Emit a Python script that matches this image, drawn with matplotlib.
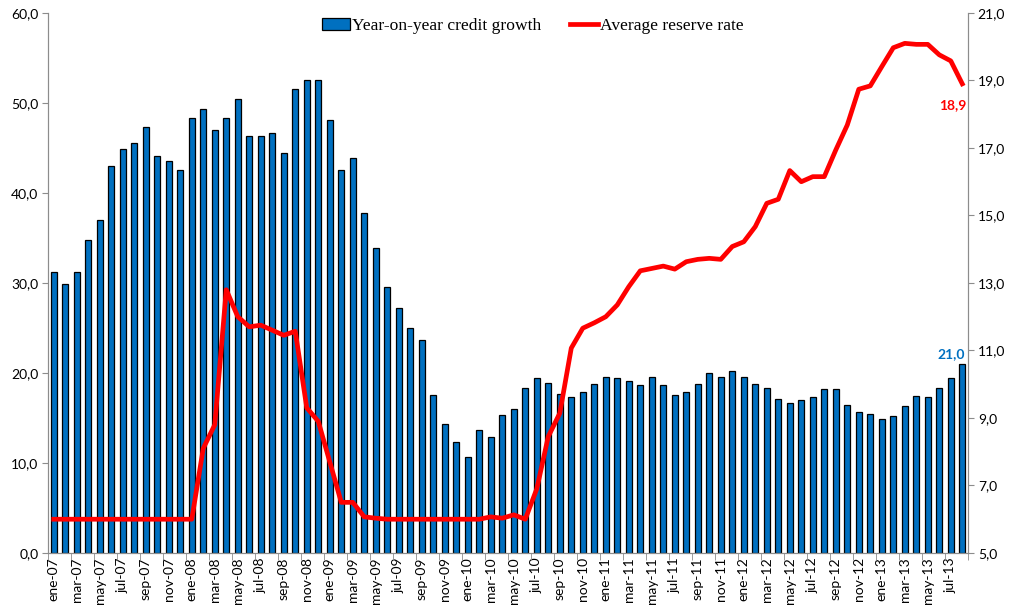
import matplotlib
matplotlib.use('Agg')
import matplotlib.pyplot as plt
import numpy as np
from matplotlib.ticker import FixedLocator, FuncFormatter

# monthly data, ene-07 .. ago-13
months = ['ene', 'feb', 'mar', 'abr', 'may', 'jun', 'jul', 'ago', 'sep', 'oct', 'nov', 'dic']
years = ['07', '08', '09', '10', '11', '12', '13']

credit_growth = [31.2, 29.9, 31.2, 34.8, 37.0, 43.0, 44.9, 45.5, 47.3, 44.1, 43.6, 42.5,
                 48.3, 49.3, 47.0, 48.3, 50.4, 46.3, 46.3, 46.7, 44.4, 51.5, 52.6, 52.6,
                 48.1, 42.5, 43.9, 37.8, 33.9, 29.6, 27.2, 25.0, 23.7, 17.5, 14.3, 12.3,
                 10.7, 13.7, 12.9, 15.3, 16.0, 18.3, 19.4, 18.9, 17.7, 17.3, 17.9, 18.8,
                 19.6, 19.4, 19.1, 18.7, 19.6, 18.7, 17.6, 17.9, 18.8, 20.0, 19.5, 20.2,
                 19.5, 18.8, 18.3, 17.1, 16.7, 17.0, 17.3, 18.2, 18.2, 16.4, 15.7, 15.4,
                 14.9, 15.2, 16.3, 17.4, 17.3, 18.3, 19.4, 21.0]

reserve_rate = [6.0, 6.0, 6.0, 6.0, 6.0, 6.0, 6.0, 6.0, 6.0, 6.0, 6.0, 6.0,
                6.0, 8.1, 8.8, 12.8, 12.0, 11.7, 11.75, 11.6, 11.45, 11.57, 9.3, 8.9,
                7.7, 6.5, 6.5, 6.07, 6.03, 6.0, 6.0, 6.0, 6.0, 6.0, 6.0, 6.0,
                6.0, 6.0, 6.07, 6.03, 6.13, 6.0, 6.9, 8.45, 9.14, 11.07, 11.66, 11.82,
                12.0, 12.35, 12.89, 13.36, 13.43, 13.5, 13.41, 13.63, 13.7, 13.73, 13.7, 14.08,
                14.22, 14.67, 15.36, 15.48, 16.33, 16.0, 16.15, 16.15, 16.94, 17.68, 18.74, 18.84,
                19.41, 19.97, 20.1, 20.07, 20.07, 19.76, 19.58, 18.9]

labels = [m + '-' + y for y in years for m in months][:len(credit_growth)]
x = np.arange(len(credit_growth))

sans = ['Lato', 'DejaVu Sans']
serif = ['Liberation Serif', 'DejaVu Serif']
blue = '#0070C0'
axis_grey = '#8c8c8c'

fig = plt.figure(figsize=(10.11, 6.09), dpi=100)
ax = fig.add_axes([0.0475, 0.092, 0.91, 0.8867])
ax2 = ax.twinx()

bars = ax.bar(x, credit_growth, width=0.5, color=blue, edgecolor='black', linewidth=0.9,
              label='Year-on-year credit growth', zorder=2)
line, = ax2.plot(x, reserve_rate, color='#ff0000', lw=3.4, solid_joinstyle='round',
                 label='Average reserve rate', zorder=3)

ax.set_xlim(-0.5, len(x) - 0.5)
ax.set_ylim(0, 60)
ax2.set_ylim(5, 21)

ax.set_yticks(np.arange(0, 61, 10))
ax2.set_yticks(np.arange(5, 22, 2))
comma = FuncFormatter(lambda v, p: ('%.1f' % v).replace('.', ','))
ax.yaxis.set_major_formatter(comma)
ax2.yaxis.set_major_formatter(comma)

# labels under every second month, tick marks between pairs
ax.set_xticks(x[::2])
ax.set_xticklabels(labels[::2], rotation=90, fontsize=10, family=sans)
ax.tick_params(axis='x', which='major', length=0, pad=3)
ax.xaxis.set_minor_locator(FixedLocator(np.arange(-0.5, len(x), 2)))
ax.tick_params(axis='x', which='minor', length=5, color=axis_grey, direction='out')

for a in (ax, ax2):
    a.tick_params(axis='y', length=4, color=axis_grey, labelsize=10, pad=3)
    for s in a.spines.values():
        s.set_color(axis_grey)
    a.spines['top'].set_visible(False)
for t in ax.get_yticklabels() + ax2.get_yticklabels():
    t.set_family(sans)

ax.annotate('21,0', (x[-1], credit_growth[-1]), xytext=(-8, 3), textcoords='offset points',
            ha='center', va='bottom', color=blue, fontweight='bold', fontsize=10, family=sans)
ax2.annotate('18,9', (x[-1], reserve_rate[-1]), xytext=(-7, -11), textcoords='offset points',
             ha='center', va='top', color='#ff0000', fontweight='bold', fontsize=10, family=sans)

fig.legend(handles=[bars, line], loc='upper center', bbox_to_anchor=(0.527, 0.997), ncol=2,
           frameon=False, prop={'family': serif, 'size': 12.6}, handlelength=1.6,
           handletextpad=0.15, columnspacing=1.6)

plt.savefig('out.png', dpi=100)
plt.close()
